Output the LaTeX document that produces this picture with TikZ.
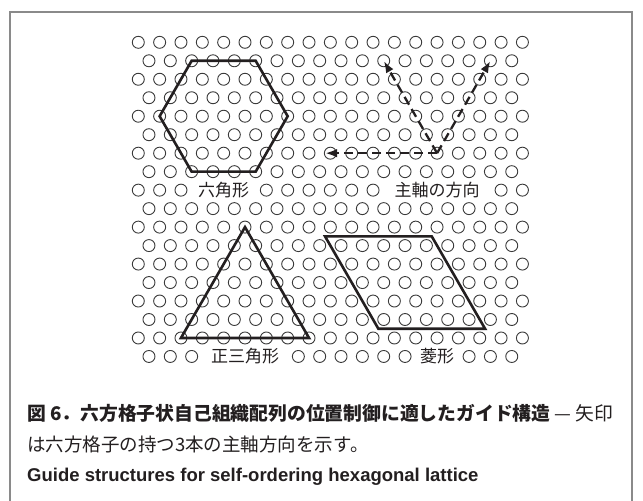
\documentclass[tikz,border=0pt]{standalone}
\usepackage{fontspec}
\setmainfont{Liberation Sans}
\newfontfamily\jp{Noto Sans CJK JP}
\usetikzlibrary{arrows.meta}
\definecolor{framegray}{HTML}{8A8A8A}
\definecolor{ink}{HTML}{231F20}
\definecolor{dotgray}{HTML}{3A3A3A}
\tikzset{
  dot/.style={draw=dotgray, line width=0.9pt},
  guide/.style={draw=ink, line width=2.6pt, line join=miter},
  axisarrow/.style={draw=ink, line width=2.3pt, dash pattern=on 9pt off 5pt, -{Latex[length=12pt,width=8.5pt]}},
  lbl/.style={font=\jp\fontsize{17}{20}\selectfont, text=ink, inner sep=0pt},
  captext/.style={anchor=west, inner sep=0pt, text=ink, font=\fontsize{18.5}{22}\selectfont},
}
\begin{document}
\begin{tikzpicture}[x=1pt,y=-1pt]
\useasboundingbox (0,0) rectangle (643,501);
\fill[white] (0,0) rectangle (643,501);
\draw[framegray, line width=1.5pt] (10,510) -- (10,12) -- (632,12) -- (632,510);
\begin{scope}[shift={(138.3,42.3)}, x=21.34pt, y=-18.48pt]
  \foreach \r in {0,...,17} {
    \pgfmathtruncatemacro\odd{mod(\r,2)}
    \ifnum\odd=0 \def\kmax{18}\def\off{0}\else \def\kmax{17}\def\off{0.5}\fi
    \foreach \k in {0,...,\kmax} {
      \pgfmathtruncatemacro\skp{(\r==8)*((\k>=3)*(\k<=5)+(\k>=12)*(\k<=16))+(\r==17)*((\k>=3)*(\k<=6)+(\k>=13)*(\k<=14))}
      \ifnum\skp=0 \draw[dot] (\k+\off,\r) circle[radius=6pt];\fi
    }
  }
  % labels
  \node[lbl] (hexlbl) at (4,8) {六角形};
  \node[lbl] (axlbl) at (14,8) {主軸の方向};
  \node[lbl] (trilbl) at (5,17) {正三角形};
  \node[lbl] (rhlbl) at (14,17) {菱形};
  % hexagon
  \coordinate (h1) at (2.5,1); \coordinate (h2) at (5.5,1); \coordinate (h3) at (7,4);
  \coordinate (h4) at (5.5,7); \coordinate (h5) at (2.5,7); \coordinate (h6) at (1,4);
  \draw[guide] (h1) -- (h2) -- (h3) -- (h4) -- (h5) -- (h6) -- cycle;
  % triangle
  \coordinate (t1) at (5,10); \coordinate (t2) at (8,16); \coordinate (t3) at (2,16);
  \draw[guide] (t1) -- (t2) -- (t3) -- cycle;
  % rhombus
  \coordinate (r1) at (8.75,10.5); \coordinate (r2) at (13.75,10.5);
  \coordinate (r3) at (16.25,15.5); \coordinate (r4) at (11.25,15.5);
  \draw[guide] (r1) -- (r2) -- (r3) -- (r4) -- cycle;
  % axes
  \coordinate (ao) at (14,6);
  \coordinate (aw) at (8.75,6);
  \coordinate (anw) at (11.5,1);
  \coordinate (ane) at (16.5,1);
  \draw[axisarrow] (ao) -- (aw);
  \draw[axisarrow] (ao) -- (anw);
  \draw[axisarrow] (ao) -- (ane);
\end{scope}
\node[captext, font=\fontsize{18.8}{22}\selectfont] (cap1) at (27,413) {\jp\bfseries 図 6．六方格子状自己組織配列の位置制御に適したガイド構造\mdseries\ — 矢印};
\node[captext] (cap2) at (27,444) {\jp は六方格子の持つ3本の主軸方向を示す。};
\node[captext] (cap3) at (27,477) {\bfseries Guide structures for self-ordering hexagonal lattice};
\end{tikzpicture}
\end{document}
